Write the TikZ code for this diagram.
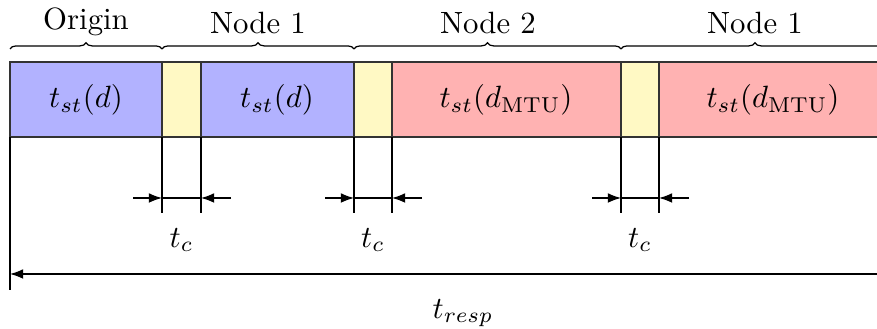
\documentclass[tikz,border=0pt]{standalone}
\usepackage{amsmath}
\usepackage{amssymb}
\usepackage{xcolor}
\usetikzlibrary{arrows.meta,decorations.pathreplacing}

\definecolor{gapyellow}{RGB}{255,249,196}

\begin{document}
\begin{tikzpicture}[x=0.325pt,y=-0.325pt,
  seg/.style={draw=black!80, line width=0.6pt},
  gap/.style={seg, fill=gapyellow},
  brc/.style={decorate, decoration={brace, amplitude=2pt}},
  dimtip/.style={-{Latex[length=4.3pt,width=3.2pt]}}]
  \useasboundingbox (0,0) rectangle (877,329);

  % transmission slots
  \draw[seg, fill=blue!30] (10,62) rectangle (162,137);
  \node (slotA) at (86,100) {$t_{st}(d)$};
  \draw[gap] (162,62) rectangle (201,137);
  \draw[seg, fill=blue!30] (201,62) rectangle (354,137);
  \node (slotB) at (277,100) {$t_{st}(d)$};
  \draw[gap] (354,62) rectangle (392,137);
  \draw[seg, fill=red!30] (392,62) rectangle (621,137);
  \node (slotC) at (506,100) {$t_{st}(d_{\mathrm{MTU}})$};
  \draw[gap] (621,62) rectangle (659,137);
  \draw[seg, fill=red!30] (659,62) rectangle (910,137);
  \node (slotD) at (773,100) {$t_{st}(d_{\mathrm{MTU}})$};

  % braces
  \draw[brc] (10,49) -- (162,49);
  \node[anchor=base] (lblO) at (86,30) {Origin};
  \draw[brc] (162,49) -- (354,49);
  \node[anchor=base] (lblA) at (258,34) {Node 1};
  \draw[brc] (354,49) -- (621,49);
  \node[anchor=base] (lblB) at (488,34) {Node 2};
  \draw[brc] (621,49) -- (889,49);
  \node[anchor=base] (lblC) at (755,34) {Node 1};

  % t_c markers
  \foreach \xa/\xb/\nm in {162/201/1,354/392/2,621/659/3} {
    \coordinate (c\nm a) at (\xa,198);
    \coordinate (c\nm b) at (\xb,198);
    \draw (\xa,137) -- (\xa,213);
    \draw (\xb,137) -- (\xb,213);
    \draw[dimtip] (\xa-29,198) -- (c\nm a);
    \draw[dimtip] (\xb+30,198) -- (c\nm b);
    \draw (c\nm a) -- (c\nm b);
    \node (tc\nm) at ({(\xa+\xb)/2},240) {$t_c$};
  }

  % response time
  \coordinate (rs) at (10,274);
  \draw (10,137) -- (10,290);
  \draw[dimtip] (900,274) -- (rs);
  \node (tresp) at (463,313) {$t_{resp}$};
\end{tikzpicture}
\end{document}
